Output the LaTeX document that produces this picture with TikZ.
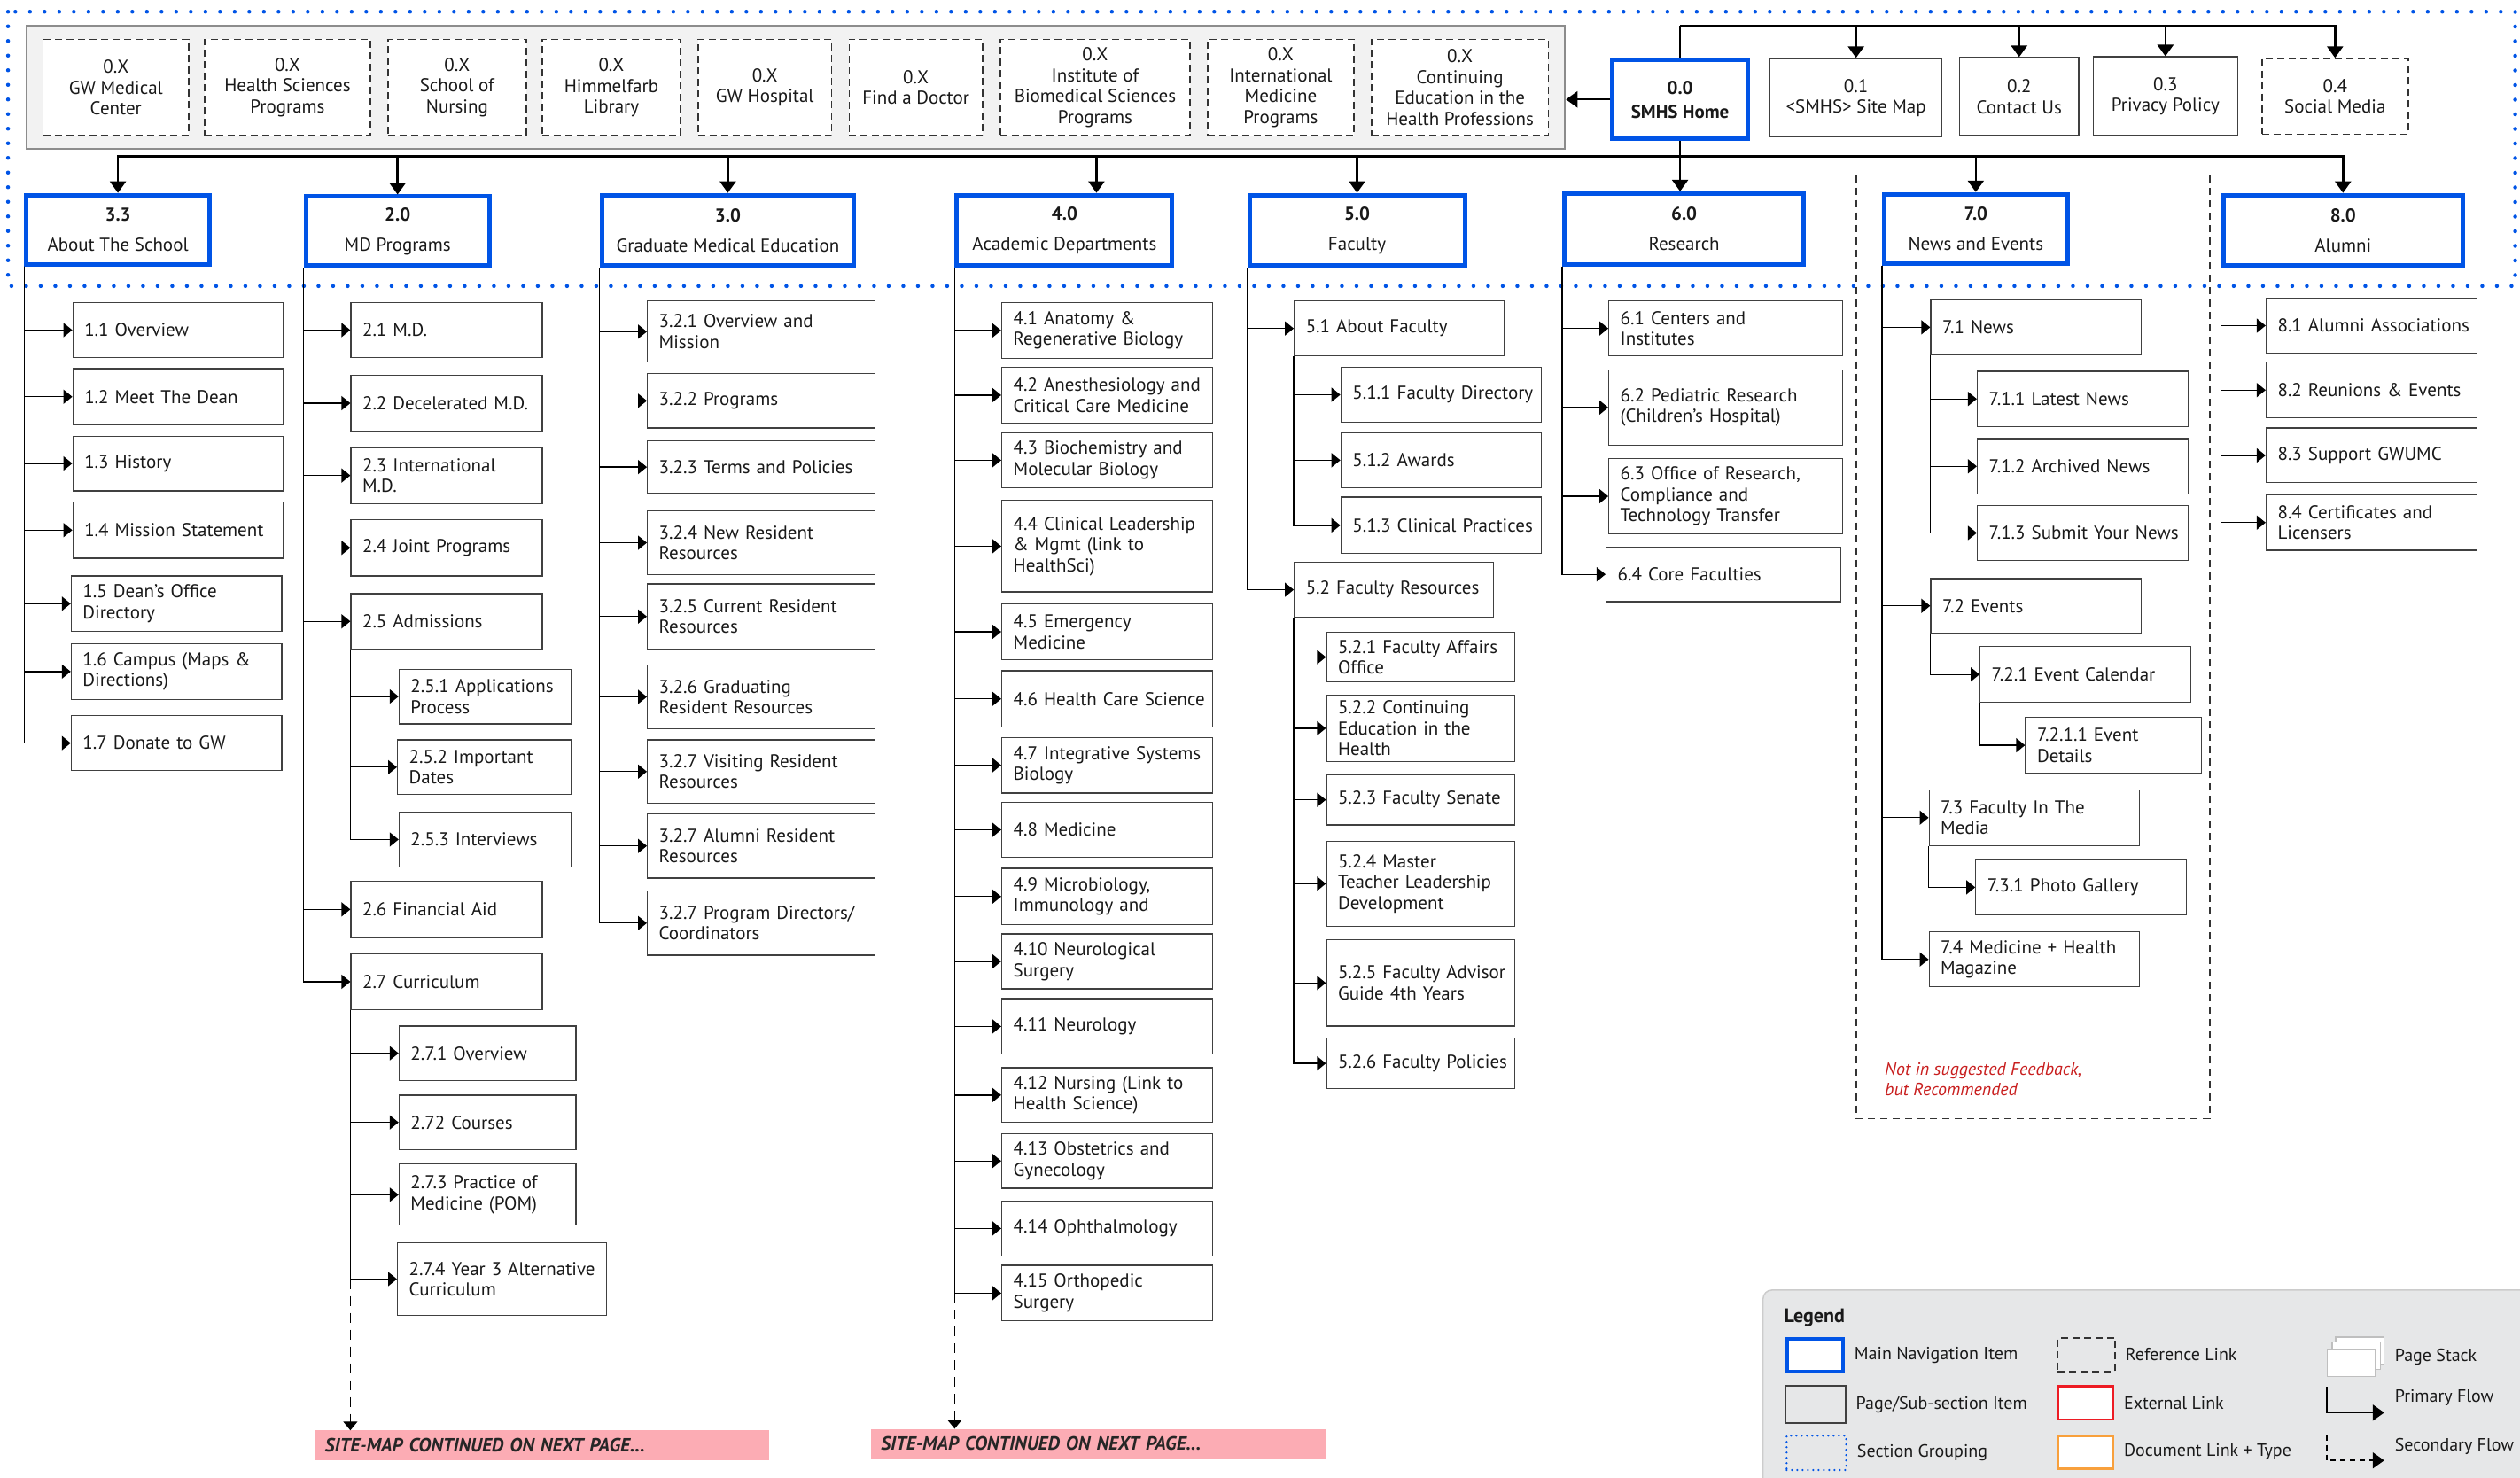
\documentclass[tikz,border=0pt]{standalone}
\usepackage{fontspec}
\setmainfont{PT Sans}
\usetikzlibrary{arrows.meta,backgrounds,fit,positioning}

\definecolor{navblue}{RGB}{0,84,230}
\definecolor{grpfill}{RGB}{242,242,242}
\definecolor{legendgray}{RGB}{230,231,232}
\definecolor{contpink}{RGB}{252,172,180}
\definecolor{notered}{RGB}{200,30,30}
\definecolor{extred}{RGB}{237,28,36}
\definecolor{docorange}{RGB}{248,160,60}

\newcommand{\dpx}{1.8138pt}
\newcommand{\boxfont}{\fontsize{21}{23.5}\selectfont}
\newcommand{\navfont}{\fontsize{21}{25}\selectfont}

\tikzset{
  boxbase/.style={anchor=north west, inner sep=0pt, font=\boxfont, text=black!90},
  mw/.style={minimum width=#1*\dpx},
  ht/.style={minimum height=#1*\dpx},
  nav/.style={boxbase, draw=navblue, line width=5pt, fill=white, align=center, font=\navfont},
  page/.style={boxbase, draw=black!75, line width=1.3pt, fill=white, text width=#1*\dpx,
    align=left, execute at begin node={\leftskip=13pt}},
  tpage/.style={boxbase, draw=black!75, line width=1.3pt, fill=white, align=center},
  xref/.style={boxbase, draw=black!80, line width=1.5pt, dash pattern=on 8pt off 5pt, fill=white, align=center},
  grp/.style={draw=black!45, line width=2.2pt, fill=grpfill},
  section/.style={draw=navblue, line width=4.5pt, line cap=round, dash pattern=on 0pt off 16.5pt},
  bus/.style={draw=black, line width=2.5pt},
  main/.style={bus, -{Triangle[length=13pt,width=18pt]}},
  sub/.style={draw=black, line width=1.3pt, -{Triangle[length=10pt,width=16pt]}},
  cont/.style={sub, dash pattern=on 11pt off 8pt},
  banner/.style={boxbase, fill=contpink, text width=#1*\dpx, align=left,
    execute at begin node={\leftskip=11pt}, font=\fontsize{21.5}{24}\selectfont\bfseries\itshape, text=black!85},
  note/.style={anchor=north west, inner sep=0pt, align=left, font=\fontsize{20}{23.6}\selectfont\itshape, text=notered},
  legtext/.style={anchor=west, inner sep=0pt, font=\fontsize{20}{24}\selectfont, text=black!90}
}

\begin{document}
\begin{tikzpicture}[x=1.8138pt, y=-1.8138pt]
  \useasboundingbox (0,0) rectangle (1568,919.6);

  % section grouping
  \draw[section] (5,7.3) rectangle (1565,178);
  \draw[draw=black!80, line width=1.5pt, dash pattern=on 8pt off 6pt] (1155,109) rectangle (1375,696);

  % reference links
  \node[xref, mw=90.6, ht=60] (gwmc) at (26.4,24) {0.X\\GW Medical\\Center};
  \node[xref, mw=103, ht=60] (hsp) at (127,24) {0.X\\Health Sciences\\Programs};
  \node[xref, mw=86, ht=60] (son) at (241,24) {0.X\\School of\\Nursing};
  \node[xref, mw=86, ht=60] (hlib) at (337,24) {0.X\\Himmelfarb\\Library};
  \node[xref, mw=83, ht=60] (gwh) at (434,24) {0.X\\GW Hospital};
  \node[xref, mw=83, ht=60] (fdoc) at (528,24) {0.X\\Find a Doctor};
  \node[xref, mw=118, ht=60] (ibs) at (622,24) {0.X\\Institute of\\Biomedical Sciences\\Programs};
  \node[xref, mw=91, ht=60] (imp) at (751,24) {0.X\\International\\Medicine\\Programs};
  \node[xref, mw=110, ht=60] (cehp) at (853,24) {0.X\\Continuing\\Education in the\\Health Professions};
  \begin{scope}[on background layer]
    \node[grp, fit=(gwmc) (cehp), inner xsep=18pt, inner ysep=14pt] (group) {};
  \end{scope}

  % home row
  \node[nav, mw=84, ht=49] (home) at (1002,36) {\textbf{0.0}\\[2pt]\textbf{SMHS Home}};
  \node[tpage, mw=107, ht=49] (sitemap) at (1101,36) {0.1\\<SMHS> Site Map};
  \node[tpage, mw=74, ht=48.5] (contact) at (1219,35.5) {0.2\\Contact Us};
  \node[tpage, mw=90, ht=49] (privacy) at (1302,35) {0.3\\Privacy Policy};
  \node[xref, mw=91, ht=47] (social) at (1407,36) {0.4\\Social Media};

  % main navigation
  \node[nav, mw=114, ht=43] (n33) at (15,120) {\textbf{3.3}\\[9pt]About The School};
  \node[nav, mw=114, ht=43] (n20) at (189,121) {\textbf{2.0}\\[9pt]MD Programs};
  \node[nav, mw=157, ht=44] (n30) at (373,120) {\textbf{3.0}\\[9pt]Graduate Medical Education};
  \node[nav, mw=134, ht=44] (n40) at (594,120) {\textbf{4.0}\\[9pt]Academic Departments};
  \node[nav, mw=134, ht=44] (n50) at (776,120) {\textbf{5.0}\\[9pt]Faculty};
  \node[nav, mw=149, ht=44] (n60) at (972,119) {\textbf{6.0}\\[9pt]Research};
  \node[nav, mw=114, ht=43] (n70) at (1171,119.5) {\textbf{7.0}\\[9pt]News and Events};
  \node[nav, mw=149, ht=44] (n80) at (1382,120) {\textbf{8.0}\\[9pt]Alumni};

  \draw[main] (home.west) -- (home.west -| group.east);
  \draw[bus] (home.north) -- ++(0,-20) coordinate (topbus);
  \foreach \t in {sitemap,contact,privacy,social} \draw[main] (topbus) -| (\t.north);
  \draw[main] (home.south) -- (home.south |- n60.north);
  \draw[bus] (home.south) -- ++(0,9.5) coordinate (botbus);
  \foreach \t in {n33,n20,n30,n50,n70,n80} \draw[main] (botbus) -| (\t.north);
  \draw[main] (botbus) -| ([xshift=36pt]n40.north);

  % 3.3 about the school
  \node[page=131, ht=34] (n11) at (45,188) {1.1 Overview};
  \node[page=131, ht=35] (n12) at (45,229) {1.2 Meet The Dean};
  \node[page=131, ht=34] (n13) at (45,271) {1.3 History};
  \node[page=131, ht=35] (n14) at (45,312) {1.4 Mission Statement};
  \node[page=131, ht=34.5] (n15) at (44,358) {1.5 Dean’s Office\\Directory};
  \node[page=131, ht=35] (n16) at (44,400) {1.6 Campus (Maps \&\\Directions)};
  \node[page=131, ht=34] (n17) at (44,445) {1.7 Donate to GW};

  % 2.0 md programs
  \node[page=119, ht=34] (n21) at (218,188) {2.1 M.D.};
  \node[page=119, ht=35] (n22) at (218,233) {2.2 Decelerated M.D.};
  \node[page=119, ht=35] (n23) at (218,278) {2.3 International\\M.D.};
  \node[page=119, ht=35] (n24) at (218,323) {2.4 Joint Programs};
  \node[page=119, ht=34.5] (n25) at (218,369) {2.5 Admissions};
  \node[page=107, ht=34] (n251) at (248,416) {2.5.1 Applications\\Process};
  \node[page=108, ht=34] (n252) at (247,460) {2.5.2 Important\\Dates};
  \node[page=107, ht=34] (n253) at (248,505) {2.5.3 Interviews};
  \node[page=119, ht=35] (n26) at (218,548) {2.6 Financial Aid};
  \node[page=119, ht=35] (n27) at (218,593) {2.7 Curriculum};
  \node[page=110, ht=34] (n271) at (248,638) {2.7.1 Overview};
  \node[page=110, ht=34] (n272) at (248,681) {2.72 Courses};
  \node[page=110, ht=38] (n273) at (248,724) {2.7.3 Practice of\\Medicine (POM)};
  \node[page=130, ht=45] (n274) at (247,773) {2.7.4 Year 3 Alternative\\Curriculum};

  % 3.0 graduate medical education
  \node[page=141.5, ht=38] (n321) at (402.5,187) {3.2.1 Overview and\\Mission};
  \node[page=141.5, ht=34] (n322) at (402.5,232) {3.2.2 Programs};
  \node[page=141.5, ht=32.5] (n323) at (402.5,274) {3.2.3 Terms and Policies};
  \node[page=141.5, ht=39.5] (n324) at (402.5,317.6) {3.2.4 New Resident\\Resources};
  \node[page=141.5, ht=40.5] (n325) at (402.5,363) {3.2.5 Current Resident\\Resources};
  \node[page=141.5, ht=39.5] (n326) at (402.5,413.5) {3.2.6 Graduating\\Resident Resources};
  \node[page=141.5, ht=39.5] (n327) at (402.5,460) {3.2.7 Visiting Resident\\Resources};
  \node[page=141.5, ht=40] (n328) at (402.5,506) {3.2.7 Alumni Resident\\Resources};
  \node[page=141.5, ht=40] (n329) at (402.5,554) {3.2.7 Program Directors/\\Coordinators};

  % 4.0 academic departments
  \node[page=131, ht=34.5] (n41) at (623,188) {4.1 Anatomy \&\\Regenerative Biology};
  \node[page=131, ht=35] (n42) at (623,228) {4.2 Anesthesiology and\\Critical Care Medicine};
  \node[page=131, ht=34] (n43) at (623,269) {4.3 Biochemistry and\\Molecular Biology};
  \node[page=131, ht=57] (n44) at (623,311) {4.4 Clinical Leadership\\\& Mgmt (link to\\HealthSci)};
  \node[page=131, ht=34.5] (n45) at (623,375.5) {4.5 Emergency\\Medicine};
  \node[page=131, ht=35] (n46) at (623,417) {4.6 Health Care Science};
  \node[page=131, ht=34.5] (n47) at (623,458.5) {4.7 Integrative Systems\\Biology};
  \node[page=131, ht=34] (n48) at (623,499) {4.8 Medicine};
  \node[page=131, ht=35] (n49) at (623,540) {4.9 Microbiology,\\Immunology and};
  \node[page=131, ht=34.3] (n410) at (623,580.7) {4.10 Neurological\\Surgery};
  \node[page=131, ht=34.6] (n411) at (623,621) {4.11 Neurology};
  \node[page=131, ht=34] (n412) at (623,664) {4.12 Nursing (Link to\\Health Science)};
  \node[page=131, ht=34] (n413) at (623,705) {4.13 Obstetrics and\\Gynecology};
  \node[page=131, ht=34] (n414) at (623,747) {4.14 Ophthalmology};
  \node[page=131, ht=34.5] (n415) at (623,787) {4.15 Orthopedic\\Surgery};

  % 5.0 faculty
  \node[page=130.6, ht=34] (n51) at (805,187) {5.1 About Faculty};
  \node[page=124.5, ht=34.5] (n511) at (834,228) {5.1.1 Faculty Directory};
  \node[page=124.5, ht=34] (n512) at (834,269) {5.1.2 Awards};
  \node[page=124.5, ht=35] (n513) at (834,309) {5.1.3 Clinical Practices};
  \node[page=124, ht=34] (n52) at (805,349.6) {5.2 Faculty Resources};
  \node[page=117, ht=31] (n521) at (825,393) {5.2.1 Faculty Affairs\\Office};
  \node[page=117, ht=41.6] (n522) at (825,432) {5.2.2 Continuing\\Education in the\\Health};
  \node[page=117, ht=31.4] (n523) at (825,481.6) {5.2.3 Faculty Senate};
  \node[page=117, ht=53] (n524) at (825,523) {5.2.4 Master\\Teacher Leadership\\Development};
  \node[page=117, ht=53.5] (n525) at (825,584.5) {5.2.5 Faculty Advisor\\Guide 4th Years};
  \node[page=117, ht=31.4] (n526) at (825,645.6) {5.2.6 Faculty Policies};

  % 6.0 research
  \node[page=145.3, ht=34] (n61) at (1000.7,187) {6.1 Centers and\\Institutes};
  \node[page=145.3, ht=47] (n62) at (1000.7,229.7) {6.2 Pediatric Research\\(Children’s Hospital)};
  \node[page=145.3, ht=47.2] (n63) at (1000.7,284.8) {6.3 Office of Research,\\Compliance and\\Technology Transfer};
  \node[page=146, ht=34] (n64) at (999,340) {6.4 Core Faculties};

  % 7.0 news and events
  \node[page=131, ht=34.6] (n71) at (1201,186) {7.1 News};
  \node[page=131, ht=34.3] (n711) at (1230,230.7) {7.1.1 Latest News};
  \node[page=131, ht=34.4] (n712) at (1230,272.6) {7.1.2 Archived News};
  \node[page=131, ht=34.5] (n713) at (1230,314) {7.1.3 Submit Your News};
  \node[page=131, ht=34] (n72) at (1201,359.6) {7.2 Events};
  \node[page=131, ht=34.6] (n721) at (1231.7,402) {7.2.1 Event Calendar};
  \node[page=109.5, ht=34.7] (n7211) at (1260,446) {7.2.1.1 Event\\Details};
  \node[page=130.7, ht=34.8] (n73) at (1200,491) {7.3 Faculty In The\\Media};
  \node[page=131, ht=34.5] (n731) at (1229,534.5) {7.3.1 Photo Gallery};
  \node[page=130.7, ht=34.2] (n74) at (1200,579.5) {7.4 Medicine + Health\\Magazine};
  \node[note] (recnote) at (1172.7,661) {Not in suggested Feedback,\\but Recommended};

  % 8.0 alumni
  \node[page=131, ht=34.5] (n81) at (1409.7,185) {8.1 Alumni Associations};
  \node[page=131, ht=34.7] (n82) at (1409.7,225) {8.2 Reunions \& Events};
  \node[page=131, ht=34] (n83) at (1409.7,266) {8.3 Support GWUMC};
  \node[page=131, ht=34.4] (n84) at (1409.7,307.6) {8.4 Certificates and\\Licensers};

  % primary flow
  \foreach \c in {n11,n12,n13,n14,n15,n16,n17} \draw[sub] (n33.south west) |- (\c);
  \foreach \c in {n21,n22,n23,n24,n25,n26,n27} \draw[sub] (n20.south west) |- (\c);
  \foreach \c in {n251,n252,n253} \draw[sub] (n25.south west) |- (\c);
  \foreach \c in {n271,n272,n273,n274} \draw[sub] (n27.south west) |- (\c);
  \foreach \c in {n321,n322,n323,n324,n325,n326,n327,n328,n329} \draw[sub] (n30.south west) |- (\c);
  \foreach \c in {n41,n42,n43,n44,n45,n46,n47,n48,n49,n410,n411,n412,n413,n414,n415}
    \draw[sub] (n40.south west) |- (\c);
  \foreach \c in {n51,n52} \draw[sub] (n50.south west) |- (\c);
  \foreach \c in {n511,n512,n513} \draw[sub] (n51.south west) |- (\c);
  \foreach \c in {n521,n522,n523,n524,n525,n526} \draw[sub] (n52.south west) |- (\c);
  \foreach \c in {n61,n62,n63,n64} \draw[sub] (n60.south west) |- (\c);
  \foreach \c in {n71,n72,n73,n74} \draw[sub] (n70.south west) |- (\c);
  \foreach \c in {n711,n712,n713} \draw[sub] (n71.south west) |- (\c);
  \draw[sub] (n72.south west) |- (n721);
  \draw[sub] (n721.south west) |- (n7211);
  \draw[sub] (n73.south west) |- (n731);
  \foreach \c in {n81,n82,n83,n84} \draw[sub] (n80.south west) |- (\c);

  % continued on next page
  \node[banner=282.5, ht=18.5] (cont1) at (196,890) {SITE-MAP CONTINUED ON NEXT PAGE...};
  \node[banner=283, ht=18.5] (cont2) at (542,889) {SITE-MAP CONTINUED ON NEXT PAGE...};
  \draw[cont] (n27.south west |- n274.west) -- (n27.south west |- cont1.north);
  \draw[cont] (n40.south west |- n415.west) -- (n40.south west |- cont2.north);

  % legend
  \path[fill=legendgray, draw=black!20, line width=1.5pt, rounded corners=10pt] (1097,802.7) rectangle (1600,950);
  \node[anchor=base west, inner sep=0pt, font=\fontsize{22}{26}\selectfont\bfseries, text=black!90] (legtitle) at (1110,823) {Legend};
  \node[nav, line width=4pt, mw=34.5, ht=20.5] (lgnav) at (1111,832) {};
  \node[boxbase, draw=black!75, line width=1.3pt, mw=37, ht=23] (lgpage) at (1111,862) {};
  \node[boxbase, draw=navblue, line width=2.5pt, line cap=round, dash pattern=on 0pt off 6pt, mw=37, ht=21.4] (lgsec) at (1111,892.6) {};
  \node[xref, fill=none, mw=35.6, ht=21] (lgref) at (1280,832) {};
  \node[boxbase, draw=extred, line width=2.5pt, fill=white, mw=34, ht=20.5] (lgext) at (1280,862) {};
  \node[boxbase, draw=docorange, line width=2.5pt, fill=white, mw=34, ht=20.5] (lgdoc) at (1280,892.6) {};
  \node[boxbase, draw=black!25, line width=1.5pt, fill=white, mw=30, ht=17] (lgs3) at (1453,831.6) {};
  \node[boxbase, draw=black!25, line width=1.5pt, fill=white, mw=30, ht=17] (lgs2) at (1450.6,834.7) {};
  \node[boxbase, draw=black!25, line width=1.5pt, fill=white, mw=30, ht=17] (lgs1) at (1447.6,839) {};
  \coordinate (pf1) at (1447.6,863);
  \coordinate (pf2) at (1483.5,879);
  \draw[main, line width=2pt] (pf1) |- (pf2);
  \coordinate (sf1) at (1447.6,893);
  \coordinate (sf2) at (1483.5,908.7);
  \draw[main, line width=2pt, dash pattern=on 6pt off 5pt] (sf1) |- (sf2);

  \node[legtext, right=11pt of lgnav] {Main Navigation Item};
  \node[legtext, right=11pt of lgpage] {Page/Sub-section Item};
  \node[legtext, right=11pt of lgsec] {Section Grouping};
  \node[legtext, right=11pt of lgref] {Reference Link};
  \node[legtext, right=11pt of lgext] {External Link};
  \node[legtext, right=11pt of lgdoc] {Document Link + Type};
  \node[legtext] at (1490,844.5) {Page Stack};
  \node[legtext] at (1490,869.6) {Primary Flow};
  \node[legtext] at (1490,900) {Secondary Flow};
\end{tikzpicture}
\end{document}
